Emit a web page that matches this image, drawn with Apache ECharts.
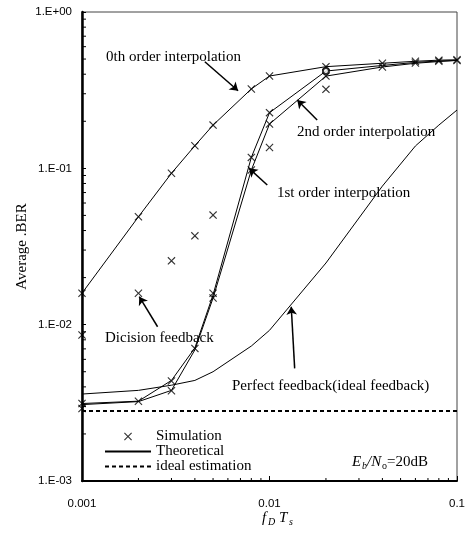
<!DOCTYPE html>
<html>
<head>
<meta charset="utf-8">
<script src="https://cdn.jsdelivr.net/npm/echarts@6/dist/echarts.min.js"></script>
<style>
html, body { margin: 0; padding: 0; background: #fff; }
#main { width: 468px; height: 536px; }
</style>
</head>
<body>
<div id="main"></div>
<script>
// fD*Ts sample points
var xs = [0.001, 0.002, 0.003, 0.004, 0.005, 0.008, 0.01, 0.02, 0.04, 0.06, 0.08, 0.1];

// theoretical curves (average BER)
var theory0 = [0.0159, 0.049, 0.093, 0.1395, 0.189, 0.322, 0.3895, 0.447, 0.47, 0.484, 0.492, 0.495];
var theory1 = [0.00313, 0.00324, 0.0044, 0.0071, 0.0155, 0.1175, 0.227, 0.419, 0.455, 0.476, 0.486, 0.49];
var theory2 = [0.00308, 0.00322, 0.0038, 0.0069, 0.0148, 0.0975, 0.192, 0.389, 0.445, 0.47, 0.482, 0.49];
var perfect = [0.0036, 0.0038, 0.0041, 0.0044, 0.005, 0.0073, 0.0092, 0.0248, 0.077, 0.139, 0.189, 0.236];
var idealEst = 0.0028;

// simulation points (x, BER)
var simX = [0.001, 0.002, 0.003, 0.004, 0.005, 0.008, 0.01, 0.02, 0.04, 0.06, 0.08, 0.1,
            0.001, 0.001, 0.002, 0.003, 0.003, 0.004, 0.005, 0.005, 0.008, 0.008, 0.01, 0.01, 0.02, 0.04, 0.06, 0.08, 0.1,
            0.001, 0.002, 0.003, 0.004, 0.005, 0.01, 0.02];
var simY = [0.0159, 0.049, 0.093, 0.1395, 0.189, 0.322, 0.3895, 0.447, 0.47, 0.484, 0.492, 0.495,
            0.00313, 0.00291, 0.00324, 0.00436, 0.00378, 0.00705, 0.0159, 0.0148, 0.1175, 0.0975, 0.227, 0.192, 0.389, 0.445, 0.472, 0.484, 0.49,
            0.00858, 0.0159, 0.0256, 0.037, 0.0502, 0.136, 0.32];
var circleX = [0.02];
var circleY = [0.419];

// axis ticks
var xTicks = [0.001, 0.01, 0.1];
var yTicks = [0.001, 0.01, 0.1, 1];
var minorSteps = [2, 3, 4, 5, 6, 7, 8, 9];

var serif = '"Liberation Serif", "Times New Roman", serif';
var cross = 'path://M0,1L1,0L5,4L9,0L10,1L6,5L10,9L9,10L5,6L1,10L0,9L4,5Z';

function pairs(a, b) {
  return a.map(function (v, i) { return [v, b[i]]; });
}

var xMinor = [], yMinor = [];
xTicks.slice(0, -1).forEach(function (d) {
  minorSteps.forEach(function (k) { xMinor.push([k * d, yTicks[0]]); });
});
yTicks.slice(0, -1).forEach(function (d) {
  minorSteps.forEach(function (k) { yMinor.push([xTicks[0], k * d]); });
});

function expLabel(v) {
  var e = Math.round(Math.log10(v));
  var s = e < 0 ? '-' : '+';
  var a = Math.abs(e);
  return '1.E' + s + (a < 10 ? '0' + a : a);
}

function theoryLine(data) {
  return {
    name: 'Theoretical', type: 'line', symbol: 'none', data: data,
    itemStyle: { color: '#000' },
    lineStyle: { color: '#000', width: 1 }, z: 3
  };
}

var myChart = echarts.init(document.getElementById('main'));

var arrowLine = { color: '#000', width: 1.5, type: 'solid' };

var option = {
  animation: false,
  grid: { left: 82, right: 9, top: 12, bottom: 55, show: true, borderColor: '#444', borderWidth: 1 },
  xAxis: {
    type: 'log', logBase: 10, min: xTicks[0], max: xTicks[xTicks.length - 1],
    axisLine: { lineStyle: { color: '#000', width: 2 } },
    axisTick: { inside: true, length: 5, lineStyle: { color: '#000' } },
    axisLabel: { margin: 17, color: '#000', fontSize: 11.5, fontFamily: '"Liberation Sans", Arial, sans-serif' },
    splitLine: { show: false }
  },
  yAxis: {
    type: 'log', logBase: 10, min: yTicks[0], max: yTicks[yTicks.length - 1],
    name: 'Average .BER', nameLocation: 'middle', nameRotate: 90, nameGap: 52, nameMoveOverlap: false,
    nameTextStyle: { color: '#000', fontSize: 15, fontFamily: serif },
    axisLine: { lineStyle: { color: '#000', width: 2.5 } },
    axisTick: { inside: true, length: 4, lineStyle: { color: '#000' } },
    axisLabel: {
      margin: 10, color: '#000', fontSize: 11.5, fontFamily: '"Liberation Sans", Arial, sans-serif',
      showMaxLabel: true, showMinLabel: true, formatter: expLabel
    },
    splitLine: { show: false }
  },
  legend: {
    orient: 'vertical', left: 99, top: 424, itemWidth: 46, itemHeight: 8, itemGap: 0,
    textStyle: { color: '#000', fontSize: 15, fontFamily: serif, lineHeight: 14.5 },
    data: [
      { name: 'Simulation' },
      { name: 'Theoretical', itemStyle: { opacity: 0 } },
      { name: 'ideal estimation', itemStyle: { opacity: 0 } }
    ],
    selectedMode: false
  },
  series: [
    theoryLine(pairs(xs, theory0)),
    theoryLine(pairs(xs, theory1)),
    theoryLine(pairs(xs, theory2)),
    Object.assign(theoryLine(pairs(xs, perfect)), {
      markLine: {
        silent: true, symbol: ['none', 'arrow'], symbolSize: 8,
        label: { show: false }, lineStyle: arrowLine,
        data: [
          [{ coord: [0.00452, 0.481] }, { coord: [0.0068, 0.3135] }],
          [{ coord: [0.01796, 0.2038] }, { coord: [0.01406, 0.2735] }],
          [{ coord: [0.00973, 0.0782] }, { coord: [0.00778, 0.1] }],
          [{ coord: [0.00253, 0.0097] }, { coord: [0.00202, 0.01509] }],
          [{ coord: [0.01362, 0.00525] }, { coord: [0.01306, 0.01302] }]
        ]
      }
    }),
    {
      name: 'ideal estimation', type: 'line', symbol: 'none',
      data: [[xTicks[0], idealEst], [xTicks[xTicks.length - 1], idealEst]],
      itemStyle: { color: '#000' },
      lineStyle: { color: '#000', width: 2, type: [4, 3] }
    },
    {
      name: 'Simulation', type: 'scatter', symbol: cross, symbolSize: 8,
      itemStyle: { color: '#000' }, data: pairs(simX, simY), z: 4
    },
    {
      name: 'sim-circle', type: 'scatter', symbol: 'emptyCircle', symbolSize: 6,
      itemStyle: { color: '#000', borderWidth: 1 }, data: pairs(circleX, circleY), z: 4
    },
    {
      name: 'xMinor', type: 'custom', data: xMinor, silent: true,
      renderItem: function (params, api) {
        var p = api.coord([api.value(0), api.value(1)]);
        return { type: 'line', shape: { x1: p[0], y1: p[1], x2: p[0], y2: p[1] - 3 }, style: { stroke: '#000', lineWidth: 1 } };
      }
    },
    {
      name: 'yMinor', type: 'custom', data: yMinor, silent: true,
      renderItem: function (params, api) {
        var p = api.coord([api.value(0), api.value(1)]);
        return { type: 'line', shape: { x1: p[0], y1: p[1], x2: p[0] + 4, y2: p[1] }, style: { stroke: '#000', lineWidth: 1 } };
      }
    }
  ],
  graphic: [
    { type: 'text', x: 106, y: 57, style: { text: '0th order interpolation', font: '15px ' + serif, fill: '#000', verticalAlign: 'middle' } },
    { type: 'text', x: 297, y: 132, style: { text: '2nd order interpolation', font: '15px ' + serif, fill: '#000', verticalAlign: 'middle' } },
    { type: 'text', x: 277, y: 193, style: { text: '1st order interpolation', font: '15px ' + serif, fill: '#000', verticalAlign: 'middle' } },
    { type: 'text', x: 105, y: 338, style: { text: 'Dicision feedback', font: '15px ' + serif, fill: '#000', verticalAlign: 'middle' } },
    { type: 'text', x: 232, y: 386, style: { text: 'Perfect feedback(ideal feedback)', font: '15px ' + serif, fill: '#000', verticalAlign: 'middle' } },
    // Eb/No = 20dB
    { type: 'text', x: 352, y: 462, style: { text: 'E', font: 'italic 15px ' + serif, fill: '#000', verticalAlign: 'middle' } },
    { type: 'text', x: 362, y: 466, style: { text: 'b', font: 'italic 10px ' + serif, fill: '#000', verticalAlign: 'middle' } },
    { type: 'text', x: 367, y: 462, style: { text: '/N', font: 'italic 15px ' + serif, fill: '#000', verticalAlign: 'middle' } },
    { type: 'text', x: 382, y: 466, style: { text: 'o', font: '10px ' + serif, fill: '#000', verticalAlign: 'middle' } },
    { type: 'text', x: 387, y: 462, style: { text: '=20dB', font: '15px ' + serif, fill: '#000', verticalAlign: 'middle' } },
    // x axis name fD Ts
    { type: 'text', x: 262, y: 518, style: { text: 'f', font: 'italic 15px ' + serif, fill: '#000', verticalAlign: 'middle' } },
    { type: 'text', x: 268, y: 522, style: { text: 'D', font: 'italic 10px ' + serif, fill: '#000', verticalAlign: 'middle' } },
    { type: 'text', x: 279, y: 518, style: { text: 'T', font: 'italic 15px ' + serif, fill: '#000', verticalAlign: 'middle' } },
    { type: 'text', x: 289, y: 522, style: { text: 's', font: 'italic 10px ' + serif, fill: '#000', verticalAlign: 'middle' } }
  ]
};

myChart.setOption(option);
</script>
</body>
</html>
